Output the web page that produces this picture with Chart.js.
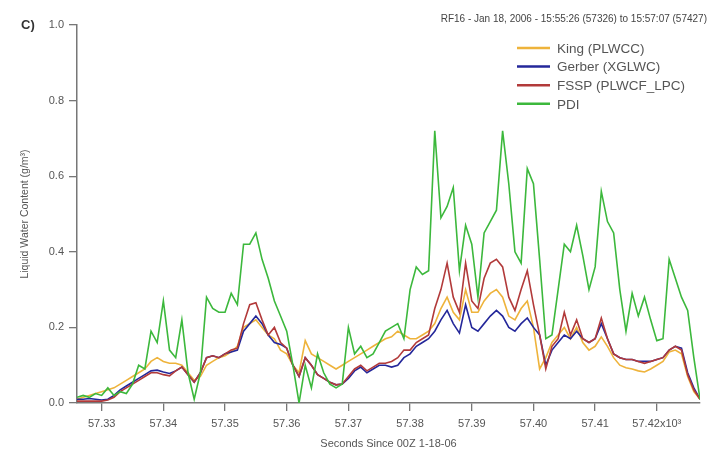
<!DOCTYPE html>
<html>
<head>
<meta charset="utf-8">
<script src="https://cdn.jsdelivr.net/npm/chart.js@4/dist/chart.umd.min.js"></script>
<style>
  html, body { margin: 0; padding: 0; background: #fff; }
  #wrap { width: 717px; height: 455px; }
</style>
</head>
<body>
<div id="wrap"><canvas id="lwc"></canvas></div>
<script>
// first sample second, one sample per second after it
var startSecond = 57326;
var endSecond = 57427;

var xTickValues = [57330, 57340, 57350, 57360, 57370, 57380, 57390, 57400, 57410, 57420];
var xTickLabels = ['57.33', '57.34', '57.35', '57.36', '57.37', '57.38', '57.39', '57.40', '57.41', '57.42x10\u00b3'];

var seriesNames = ['King (PLWCC)', 'Gerber (XGLWC)', 'FSSP (PLWCF_LPC)', 'PDI'];
var seriesColors = ['#eeb33b', '#24279a', '#b23a3a', '#3cb83c'];

var kingLwc = [
    0.01, 0.015, 0.02, 0.025, 0.03, 0.035, 0.04, 0.05, 0.06, 0.07,
    0.08, 0.09, 0.11, 0.12, 0.11, 0.105, 0.105, 0.10, 0.08, 0.06,
    0.07, 0.10, 0.11, 0.12, 0.125, 0.135, 0.15, 0.20, 0.21, 0.22,
    0.20, 0.18, 0.17, 0.14, 0.13, 0.10, 0.08, 0.165, 0.13, 0.12,
    0.11, 0.10, 0.09, 0.10, 0.11, 0.12, 0.13, 0.14, 0.15, 0.16,
    0.17, 0.175, 0.19, 0.18, 0.17, 0.17, 0.18, 0.19, 0.21, 0.25,
    0.28, 0.24, 0.22, 0.30, 0.24, 0.24, 0.27, 0.29, 0.30, 0.28,
    0.23, 0.22, 0.25, 0.27, 0.20, 0.09, 0.12, 0.16, 0.18, 0.20,
    0.17, 0.20, 0.16, 0.14, 0.15, 0.175, 0.15, 0.12, 0.10, 0.093,
    0.09, 0.085, 0.082, 0.09, 0.10, 0.11, 0.135, 0.14, 0.13, 0.07,
    0.03, 0.01
];

var gerberLwc = [
    0.01, 0.01, 0.012, 0.01, 0.008, 0.01, 0.02, 0.035, 0.045, 0.055,
    0.065, 0.075, 0.085, 0.087, 0.082, 0.078, 0.085, 0.095, 0.075, 0.055,
    0.08, 0.12, 0.125, 0.12, 0.13, 0.135, 0.14, 0.19, 0.21, 0.23,
    0.21, 0.18, 0.16, 0.155, 0.145, 0.10, 0.07, 0.12, 0.10, 0.075,
    0.065, 0.055, 0.048, 0.05, 0.065, 0.085, 0.095, 0.08, 0.09, 0.10,
    0.10, 0.095, 0.10, 0.12, 0.13, 0.15, 0.16, 0.17, 0.19, 0.22,
    0.245, 0.21, 0.185, 0.26, 0.20, 0.19, 0.21, 0.23, 0.245, 0.23,
    0.20, 0.19, 0.21, 0.225, 0.20, 0.18, 0.10, 0.14, 0.16, 0.18,
    0.17, 0.19, 0.17, 0.16, 0.17, 0.21, 0.17, 0.13, 0.12, 0.115,
    0.115, 0.11, 0.11, 0.11, 0.115, 0.12, 0.14, 0.15, 0.145, 0.08,
    0.04, 0.01
];

var fsspLwc = [
    0.005, 0.005, 0.005, 0.005, 0.005, 0.008, 0.015, 0.03, 0.04, 0.05,
    0.06, 0.07, 0.08, 0.08, 0.075, 0.072, 0.085, 0.095, 0.075, 0.055,
    0.08, 0.12, 0.125, 0.12, 0.13, 0.14, 0.145, 0.21, 0.26, 0.265,
    0.22, 0.18, 0.20, 0.16, 0.145, 0.10, 0.07, 0.12, 0.10, 0.075,
    0.065, 0.055, 0.048, 0.05, 0.07, 0.09, 0.10, 0.085, 0.095, 0.105,
    0.105, 0.11, 0.12, 0.14, 0.14, 0.16, 0.17, 0.18, 0.25, 0.30,
    0.37, 0.28, 0.24, 0.37, 0.27, 0.25, 0.33, 0.37, 0.38, 0.36,
    0.28, 0.245, 0.30, 0.35, 0.26, 0.18, 0.09, 0.15, 0.17, 0.24,
    0.18, 0.22, 0.17, 0.16, 0.17, 0.225, 0.17, 0.13, 0.12, 0.115,
    0.115, 0.11, 0.105, 0.11, 0.115, 0.12, 0.14, 0.15, 0.14, 0.075,
    0.035, 0.01
];

var pdiLwc = [
    0.015, 0.02, 0.015, 0.025, 0.02, 0.04, 0.02, 0.03, 0.025, 0.05,
    0.10, 0.09, 0.19, 0.16, 0.27, 0.14, 0.12, 0.22, 0.08, 0.01,
    0.08, 0.28, 0.25, 0.24, 0.24, 0.29, 0.26, 0.42, 0.42, 0.45,
    0.38, 0.33, 0.27, 0.23, 0.19, 0.10, 0.0, 0.10, 0.04, 0.13,
    0.08, 0.05, 0.04, 0.05, 0.20, 0.13, 0.15, 0.12, 0.13, 0.16,
    0.19, 0.20, 0.21, 0.17, 0.30, 0.36, 0.34, 0.35, 0.72, 0.49,
    0.52, 0.57, 0.35, 0.47, 0.42, 0.28, 0.45, 0.48, 0.51, 0.72,
    0.58, 0.40, 0.37, 0.62, 0.58, 0.38, 0.17, 0.18, 0.30, 0.42,
    0.40, 0.47, 0.39, 0.30, 0.36, 0.56, 0.48, 0.45, 0.30, 0.19,
    0.29, 0.23, 0.28, 0.22, 0.165, 0.17, 0.38, 0.33, 0.28, 0.245,
    0.12, 0.01
];

// pair each value with its second
function toPoints(values) {
    var pts = [];
    for (var i = 0; i < values.length; i++) {
        pts.push({ x: startSecond + i, y: values[i] });
    }
    return pts;
}

var allSeries = [kingLwc, gerberLwc, fsspLwc, pdiLwc];
var datasets = [];
for (var s = 0; s < allSeries.length; s++) {
    datasets.push({
        label: seriesNames[s],
        data: toPoints(allSeries[s]),
        borderColor: seriesColors[s],
        backgroundColor: seriesColors[s],
        borderWidth: 1.6,
        pointRadius: 0,
        tension: 0,
        order: allSeries.length - s
    });
}

var FONT = "'Liberation Sans', Arial, sans-serif";

// header texts and the legend box in the upper right
var decorations = {
    id: 'decorations',
    afterDraw: function(chart) {
        var ctx = chart.ctx;
        ctx.save();
        ctx.fillStyle = '#333';
        ctx.font = 'bold 13px ' + FONT;
        ctx.textBaseline = 'middle';
        ctx.textAlign = 'left';
        ctx.fillText('C)', 21, 25);

        ctx.font = '10px ' + FONT;
        ctx.fillStyle = '#444';
        ctx.textAlign = 'right';
        ctx.fillText('RF16 - Jan 18, 2006 - 15:55:26 (57326) to 15:57:07 (57427)', 707, 19);

        ctx.font = '13.5px ' + FONT;
        ctx.textAlign = 'left';
        chart.data.datasets.forEach(function(ds, i) {
            var y = 48 + i * 18.6;
            ctx.strokeStyle = ds.borderColor;
            ctx.lineWidth = 2.5;
            ctx.beginPath();
            ctx.moveTo(517, y);
            ctx.lineTo(550, y);
            ctx.stroke();
            ctx.fillStyle = '#555';
            ctx.fillText(ds.label, 557, y + 1);
        });
        ctx.restore();
    }
};

new Chart(document.getElementById('lwc'), {
    type: 'line',
    data: { datasets: datasets },
    plugins: [decorations],
    options: {
        responsive: true,
        maintainAspectRatio: false,
        animation: false,
        layout: { padding: { top: 25, right: 17, left: 0, bottom: 0 } },
        plugins: {
            legend: { display: false },
            tooltip: { enabled: false }
        },
        scales: {
            x: {
                type: 'linear',
                min: startSecond,
                max: endSecond,
                afterBuildTicks: function(scale) {
                    scale.ticks = xTickValues.map(function(v) { return { value: v }; });
                },
                afterFit: function(scale) { scale.height = 52; },
                ticks: {
                    color: '#555',
                    font: { family: FONT, size: 11 },
                    padding: 6,
                    maxRotation: 0,
                    autoSkip: false,
                    callback: function(value) {
                        var k = xTickValues.indexOf(value);
                        return k >= 0 ? xTickLabels[k] : '';
                    }
                },
                grid: { display: true, drawOnChartArea: false, drawTicks: true, tickLength: 8, color: '#777', lineWidth: 1.3 },
                border: { display: true, color: '#777', width: 1.5 },
                title: {
                    display: true,
                    text: 'Seconds Since 00Z 1-18-06',
                    color: '#555',
                    font: { family: FONT, size: 11 },
                    padding: { top: 4, bottom: 4 }
                }
            },
            y: {
                min: 0,
                max: 1,
                afterFit: function(scale) { scale.width = 77; },
                ticks: {
                    stepSize: 0.2,
                    color: '#555',
                    font: { family: FONT, size: 11 },
                    padding: 5,
                    callback: function(value) { return value.toFixed(1); }
                },
                grid: { display: true, drawOnChartArea: false, drawTicks: true, tickLength: 8, color: '#777', lineWidth: 1.3 },
                border: { display: true, color: '#777', width: 1.5 },
                title: {
                    display: true,
                    text: 'Liquid Water Content (g/m\u00b3)',
                    color: '#555',
                    font: { family: FONT, size: 10.5 },
                    padding: { top: 19, bottom: 0 }
                }
            }
        }
    }
});
</script>
</body>
</html>
